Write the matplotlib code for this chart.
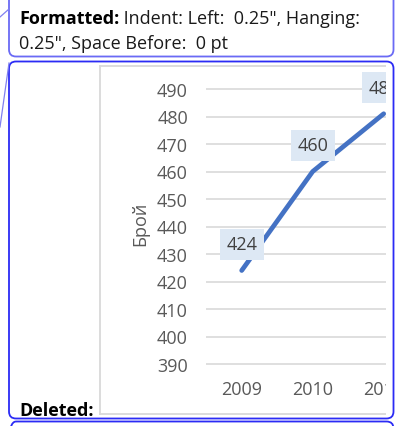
import matplotlib
matplotlib.use("Agg")
import matplotlib.pyplot as plt
from matplotlib.patches import FancyBboxPatch, Rectangle
from matplotlib.lines import Line2D
from matplotlib.transforms import Affine2D

# ---- data ----
years = ["2009", "2010", "2011"]
values = [424, 460, 481]
yticks = [390, 400, 410, 420, 430, 440, 450, 460, 470, 480, 490]
y_label = "Брой"
balloon1_bold = "Formatted:"
balloon1_rest = " Indent: Left:  0.25\", Hanging:"
balloon1_line2 = "0.25\", Space Before:  0 pt"
balloon2_text = "Deleted:"

W, H = 398, 427
DPI = 100
FONT = "Open Sans"
plt.rcParams['font.family'] = [FONT, 'DejaVu Sans']

fig = plt.figure(figsize=(W / DPI, H / DPI), dpi=DPI)
fig.patch.set_facecolor("white")

# pixel transform (origin top-left)
T = Affine2D().scale(1 / W, -1 / H).translate(0, 1) + fig.transFigure

# ---- chart axes (pixel layout) ----
x0_px, dx_px = 241.7, 71.0           # category 0 center, category spacing
y490_px, y390_px = 90.0, 365.0
ax_left, ax_right = 206.0, 386.0
ax_top, ax_bot = 68.0, 380.0
ppu = (y390_px - y490_px) / (yticks[-1] - yticks[0])
ymax = yticks[-1] + (y490_px - ax_top) / ppu
ymin = yticks[0] - (ax_bot - y390_px) / ppu
xmin = (ax_left - x0_px) / dx_px
xmax = (ax_right - x0_px) / dx_px

ax = fig.add_axes([ax_left / W, 1 - ax_bot / H, (ax_right - ax_left) / W, (ax_bot - ax_top) / H])
ax.set_facecolor("none")
ax.set_xlim(xmin, xmax)
ax.set_ylim(ymin, ymax)
for s in ax.spines.values():
    s.set_visible(False)
ax.set_yticks(yticks)
ax.set_yticklabels([str(v) for v in yticks])
ax.set_xticks(range(len(years)))
ax.set_xticklabels(years)
ax.tick_params(axis="both", length=0, labelsize=13, labelcolor="#595959")
ax.tick_params(axis="y", pad=13)
ax.tick_params(axis="x", pad=1)
ax.yaxis.grid(True, color="#d9d9d9", linewidth=1.2)
ax.set_axisbelow(True)

xs = list(range(len(years)))
ax.plot(xs, values, color="#4472c4", linewidth=3.4, solid_capstyle="round",
        solid_joinstyle="round", zorder=3)
for x, v in zip(xs, values):
    t = ax.annotate(str(v), (x, v), xytext=(0, 26 * 72 / DPI), textcoords="offset points",
                    ha="center", va="center", fontsize=13, color="#404040",
                    bbox=dict(boxstyle="square,pad=0.36", fc="#dde8f4", ec="none"),
                    zorder=4, annotation_clip=False)
    t.set_clip_on(True)

ax.text(140 / W, 1 - 224 / H, y_label, transform=fig.transFigure, rotation=90,
        ha="center", va="center", fontsize=13, color="#595959")

# chart frame (left, top, bottom edges)
frame_c = "#d9d9d9"
fig.add_artist(Line2D([99.5, 99.5], [67, 414.5], transform=T, color=frame_c, lw=1.3))
fig.add_artist(Line2D([99.5, 387], [67, 67], transform=T, color=frame_c, lw=1.3))
fig.add_artist(Line2D([99.5, 387], [414.5, 414.5], transform=T, color=frame_c, lw=1.3))

# white cover right of clip edge
fig.add_artist(Rectangle((386, 60), 20, 362, transform=T, facecolor="white",
                         edgecolor="none", zorder=5))

# ---- balloons ----
def balloon(x, y, w, h, color):
    p = FancyBboxPatch((x, y), w, h, boxstyle="round,pad=0,rounding_size=7",
                       transform=T, facecolor="none", edgecolor=color, lw=1.3, zorder=6)
    fig.add_artist(p)

balloon(9, -10, 384.5, 67.5, "#6a6af5")
balloon(9, 62.5, 384.5, 357, "#2b2bf5")
balloon(9, 422.5, 384.5, 30, "#2b2bf5")

fig.add_artist(Line2D([9, 0], [10, 18], transform=T, color="#8080f0", lw=0.9, zorder=6))
fig.add_artist(Line2D([9, 0], [64, 128], transform=T, color="#8080f0", lw=0.9, zorder=6))

# balloon text
fs = 13
tb = fig.text(19 / W, 1 - 24 / H, balloon1_bold, fontsize=fs, fontweight="bold",
              color="black", ha="left", va="baseline", zorder=7)
fig.canvas.draw()
bb = tb.get_window_extent()
fig.text(bb.x1 / W, 1 - 24 / H, balloon1_rest, fontsize=fs, color="#1a1a1a",
         ha="left", va="baseline", zorder=7)
fig.text(19 / W, 1 - 49 / H, balloon1_line2, fontsize=fs, color="#1a1a1a",
         ha="left", va="baseline", zorder=7)
fig.text(19 / W, 1 - 416 / H, balloon2_text, fontsize=fs, fontweight="bold",
         color="black", ha="left", va="baseline", zorder=7)

fig.savefig("out.png", dpi=DPI, facecolor="white")
